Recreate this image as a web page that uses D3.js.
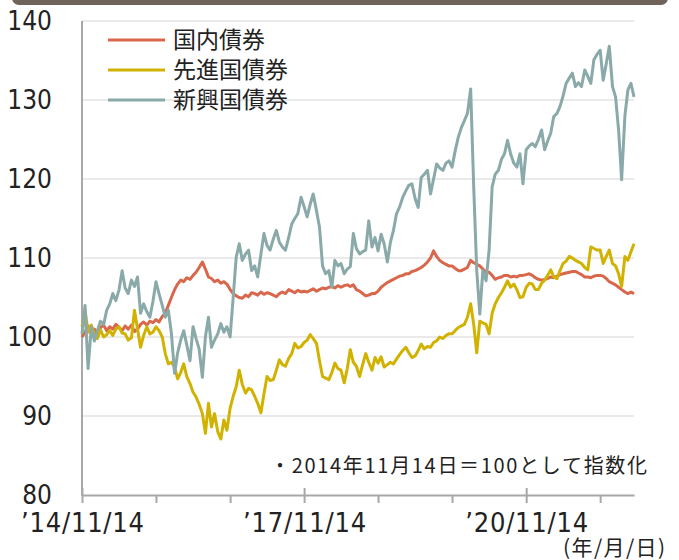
<!DOCTYPE html>
<html>
<head>
<meta charset="utf-8">
<script src="https://cdn.jsdelivr.net/npm/d3@7"></script>
<style>
body { margin: 0; background: #fff; }
svg { display: block; }
</style>
</head>
<body>
<svg id="chart" width="679" height="560"></svg>
<script>
// Legend order: domestic, developed, emerging
var seriesNames = ["国内債券", "先進国債券", "新興国債券"];
var seriesColors = ["#d8674b", "#d1b200", "#8aa9a9"];

// Index values (2014/11/14 = 100), read twice a month off the original
var domestic = [
  100.0, 100.6, 101.4, 100.5, 101.0, 100.4, 101.2, 101.5, 100.8, 101.3, 101.0, 101.6,
  101.2, 100.8, 101.4, 101.0, 101.5, 100.7, 101.0, 101.6, 101.9, 101.5, 102.0, 101.8,
  102.2, 101.9, 102.6, 103.0, 104.0, 105.0, 106.0, 106.7, 107.2, 107.0, 107.5, 107.3,
  107.8, 108.2, 108.8, 109.5, 108.6, 107.6, 107.4, 107.0, 107.2, 106.8, 107.0, 106.7,
  106.0, 105.5, 105.2, 105.0, 104.9, 105.3, 105.1, 105.6, 105.5, 105.3, 105.7, 105.4,
  105.6, 105.5, 105.3, 105.1, 105.5, 105.7, 105.5, 106.0, 105.8, 105.6, 105.9, 105.7,
  105.8, 105.7, 105.9, 106.1, 105.8, 106.0, 106.2, 106.1, 106.3, 106.4, 106.2, 106.5,
  106.3, 106.5, 106.6, 106.4, 106.6, 106.0, 105.8, 105.5, 105.2, 105.3, 105.5, 105.5,
  105.8, 106.3, 106.6, 106.9, 107.1, 107.3, 107.5, 107.7, 107.8, 108.0, 108.0, 108.3,
  108.4, 108.6, 108.8, 109.1, 109.5, 110.0, 110.9, 110.2, 109.7, 109.4, 109.2, 109.0,
  109.0, 108.7, 108.4, 108.4, 108.6, 108.8, 109.7, 109.4, 109.2, 109.0, 108.6, 108.2,
  108.2, 107.8, 107.3, 107.5, 107.6, 107.8, 107.8, 107.6, 107.7, 107.6, 107.8, 107.8,
  107.9, 108.0, 107.8, 107.5, 107.3, 107.2, 107.3, 107.4, 107.6, 107.5, 107.7, 107.9,
  108.0, 108.1, 108.2, 108.3, 108.3, 108.1, 107.9, 107.6, 107.6, 107.5, 107.7, 107.8,
  107.8, 107.7, 107.4, 107.0, 106.8, 106.6, 106.3, 106.0, 105.7, 105.5, 105.7, 105.5
];
var developed = [
  101.3, 103.4, 100.6, 101.5, 100.4, 99.8, 100.9, 100.0, 100.3, 100.8, 100.2, 101.0,
  101.3, 100.5, 100.4, 99.6, 99.9, 103.4, 101.0, 98.7, 100.2, 101.3, 100.4, 100.6,
  101.3, 100.8, 100.0, 97.9, 96.6, 96.8, 96.2, 94.7, 95.5, 96.6, 95.0, 94.1,
  93.0, 92.4, 91.5, 90.3, 87.8, 91.6, 88.6, 90.3, 88.0, 87.1, 89.5, 88.2,
  91.0, 92.5, 93.7, 95.8, 94.0, 92.9, 93.5, 93.3, 92.5, 91.6, 90.4, 92.8,
  95.0, 94.5, 94.6, 95.8, 97.1, 96.5, 96.3, 97.3, 97.9, 99.2, 98.6, 98.8,
  99.3, 99.6, 100.3, 99.8, 99.2, 97.0, 95.0, 94.8, 94.6, 95.5, 96.7, 96.0,
  95.8, 94.2, 96.0, 98.4, 96.8, 96.3, 95.0, 96.5, 97.9, 96.8, 95.8, 97.4,
  96.7, 97.5, 96.2, 96.5, 96.8, 96.6, 97.2, 97.8, 98.3, 98.7, 98.0, 97.4,
  97.6, 98.3, 99.1, 98.5, 98.8, 98.7, 99.3, 99.5, 100.0, 99.8, 100.2, 100.4,
  100.4, 100.8, 101.2, 101.4, 101.6, 102.5, 104.2, 101.6, 98.0, 102.0, 101.8, 101.6,
  100.4, 103.0, 104.2, 105.0, 105.6, 106.3, 107.1, 106.3, 106.7, 106.0, 105.0, 105.1,
  106.3, 106.8, 106.7, 106.0, 106.0, 106.8, 107.2, 107.8, 108.5, 107.6, 107.4, 108.4,
  109.3, 109.6, 110.2, 110.0, 109.7, 109.5, 109.3, 108.8, 108.5, 111.4, 111.2, 111.0,
  111.0, 109.3, 110.2, 111.0, 109.3, 109.0, 108.0, 106.4, 110.2, 109.7, 110.8, 111.8
];
var emerging = [
  100.4, 104.0, 96.0, 101.3, 99.5, 100.8, 102.0, 101.6, 103.4, 104.2, 105.5, 104.6,
  106.0, 108.4, 106.2, 105.5, 107.2, 106.4, 107.6, 103.0, 104.2, 103.2, 102.5, 104.5,
  107.0, 105.5, 104.0, 102.5, 103.4, 100.5, 95.4, 98.0, 99.6, 100.8, 99.0, 97.0,
  101.3, 99.8, 98.5, 94.9, 100.0, 102.5, 98.7, 99.6, 100.4, 101.7, 100.6, 101.3,
  100.0, 105.0, 110.1, 111.8, 109.7, 110.5, 111.0, 108.4, 109.0, 107.6, 110.5, 113.1,
  111.6, 111.0, 112.4, 113.5, 112.0, 111.4, 111.0, 112.6, 114.3, 115.0, 115.6, 117.7,
  116.5, 115.2, 116.8, 118.1, 116.0, 113.9, 109.0, 108.0, 108.4, 106.3, 109.7, 109.0,
  109.3, 108.0, 108.6, 108.9, 113.1, 111.2, 110.5, 110.8, 111.0, 114.7, 111.4, 112.6,
  110.9, 113.0, 111.8, 109.5, 112.0, 113.5, 115.6, 116.5, 117.7, 118.5, 119.2, 119.4,
  117.5, 116.4, 120.2, 120.6, 121.1, 118.1, 120.0, 121.9, 121.4, 121.1, 122.0, 122.3,
  121.5, 123.5, 125.3, 126.5, 127.4, 128.3, 131.4, 119.0, 108.4, 102.9, 108.4, 107.1,
  111.0, 119.0, 120.6, 121.1, 122.5, 123.2, 124.9, 123.2, 122.0, 121.5, 123.2, 119.4,
  123.7, 124.2, 124.5, 124.1, 125.0, 126.2, 123.7, 124.8, 125.8, 127.9, 128.3, 129.2,
  130.5, 132.1, 132.8, 133.4, 131.7, 132.2, 131.7, 133.8, 133.0, 132.1, 135.1, 135.8,
  136.3, 132.5, 134.6, 136.8, 131.7, 130.4, 126.2, 119.9, 128.0, 131.3, 132.1, 130.4
];

var yTicks = [80, 90, 100, 110, 120, 130, 140];
var labelYears = [2014, 2017, 2020];
var note = "・2014年11月14日＝100として指数化";
var unitLabel = "(年/月/日)";

var svg = d3.select("#chart");
var series = [domestic, developed, emerging];

// twice-monthly sampling dates
var start = new Date(Date.UTC(2014, 10, 14));
var dates = domestic.map(function (d, i) {
    return d3.utcDay.offset(start, Math.round(i * 365.25 / 24));
});

var x = d3.scaleUtc().domain([start, dates[dates.length - 1]]).range([82, 634]);
var y = d3.scaleLinear().domain([80, 140]).range([495, 21]);

var numFont = "'Liberation Sans Narrow', 'DejaVu Sans Condensed', 'Liberation Sans', sans-serif";
var jpFont = "'Noto Sans CJK JP', sans-serif";

// top header strip
svg.append("rect")
    .attr("x", 12).attr("y", -12).attr("width", 656).attr("height", 17)
    .attr("rx", 7).attr("fill", "#6f635b");

// gridlines
svg.append("g").selectAll("line")
    .data(yTicks.filter(function (v) { return v > 80; }))
    .enter().append("line")
    .attr("x1", 82).attr("x2", 634)
    .attr("y1", function (v) { return y(v); })
    .attr("y2", function (v) { return y(v); })
    .attr("stroke", "#e3e3e3").attr("stroke-width", 1.5);

// y labels
svg.append("g").selectAll("text")
    .data(yTicks).enter().append("text")
    .attr("x", 52)
    .attr("y", function (v) { return y(v); })
    .attr("dy", "0.36em")
    .attr("text-anchor", "end")
    .attr("font-family", numFont)
    .attr("font-size", 26)
    .attr("fill", "#222")
    .text(function (v) { return v; });

// x axis
var yearTicks = d3.range(2014, 2022).map(function (yr) { return new Date(Date.UTC(yr, 10, 14)); });
var xAxis = d3.axisBottom(x)
    .tickValues(yearTicks)
    .tickSize(8)
    .tickSizeOuter(0)
    .tickFormat(function (d) {
        var yr = d.getUTCFullYear();
        return labelYears.indexOf(yr) >= 0 ? "’" + String(yr).slice(2) + "/11/14" : "";
    });
var gx = svg.append("g").attr("transform", "translate(0,495)").call(xAxis);
gx.select(".domain").attr("stroke", "#a8a8a8").attr("stroke-width", 2);
gx.selectAll(".tick line").attr("stroke", "#a8a8a8").attr("stroke-width", 2)
    .attr("y1", function (d) { return labelYears.indexOf(d.getUTCFullYear()) >= 0 ? -7 : 0; });
gx.selectAll(".tick text")
    .attr("y", 18)
    .attr("dy", "0.71em")
    .attr("fill", "#222")
    .attr("font-family", numFont)
    .attr("font-size", 27)
    .attr("textLength", function () { return this.textContent ? 123 : null; })
    .attr("lengthAdjust", "spacing");

// y axis line
svg.append("line")
    .attr("x1", 82).attr("x2", 82).attr("y1", 21).attr("y2", 496)
    .attr("stroke", "#a8a8a8").attr("stroke-width", 2);

// series lines
var line = d3.line()
    .x(function (d, i) { return x(dates[i]); })
    .y(function (d) { return y(d); });

svg.append("g").selectAll("path")
    .data(series).enter().append("path")
    .attr("d", line)
    .attr("fill", "none")
    .attr("stroke", function (d, i) { return seriesColors[i]; })
    .attr("stroke-width", 3)
    .attr("stroke-linejoin", "round");

// legend
var legend = svg.append("g").selectAll("g")
    .data(seriesNames).enter().append("g")
    .attr("transform", function (d, i) { return "translate(108," + (40 + i * 30) + ")"; });
legend.append("line")
    .attr("x1", 0).attr("x2", 57)
    .attr("stroke", function (d, i) { return seriesColors[i]; })
    .attr("stroke-width", 3);
legend.append("text")
    .attr("x", 65).attr("dy", "0.36em")
    .attr("font-family", jpFont)
    .attr("font-size", 23)
    .attr("fill", "#222")
    .text(function (d) { return d; });

// note and unit
svg.append("text")
    .attr("x", 270).attr("y", 466).attr("dy", "0.36em")
    .attr("font-family", jpFont)
    .attr("font-size", 20)
    .attr("fill", "#222")
    .attr("textLength", 377).attr("lengthAdjust", "spacing")
    .text(note);

svg.append("text")
    .attr("x", 563).attr("y", 547).attr("dy", "0.36em")
    .attr("font-family", jpFont)
    .attr("font-size", 21)
    .attr("fill", "#222")
    .attr("textLength", 102).attr("lengthAdjust", "spacing")
    .text(unitLabel);
</script>
</body>
</html>
